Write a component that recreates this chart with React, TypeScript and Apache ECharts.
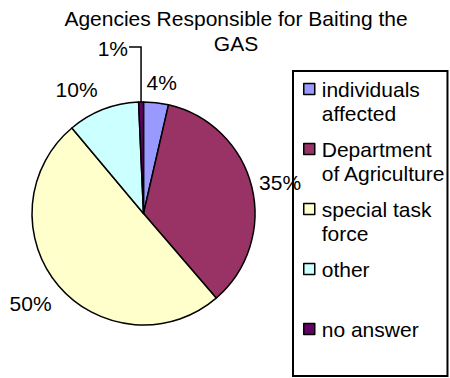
import React, { useEffect, useRef } from "react";
import * as echarts from "echarts";

// ---- data ----
const categories = [
  "individuals affected",
  "Department of Agriculture",
  "special task force",
  "other",
  "no answer",
];
const legendLabels = [
  "individuals\naffected",
  "Department\nof Agriculture",
  "special task\nforce",
  "other\n ",
  "no answer\n ",
];
const shares = [3.6, 35.1, 50.2, 10.4, 0.7];
const titleLines = ["Agencies Responsible for Baiting the", "GAS"];

// ---- styles / layout ----
const colors = ["#9999FF", "#993366", "#FFFFCC", "#CCFFFF", "#660066"];
const FONT = "'Liberation Sans', Arial, Helvetica, sans-serif";
const CX = 143.5;
const CY = 213.5;
const RADIUS = 111.5;
const LABEL_R = 135;
const labelNudge = [
  [3, 3],
  [5.5, 1],
  [-10, 3],
  [-18, 1.5],
  [0, 0],
];
const LEADER_INDEX = 4;
const LEADER_RISE = 55;
const LEADER_RUN = 12;

export default function App() {
  const ref = useRef<HTMLDivElement>(null);

  useEffect(() => {
    if (!ref.current) return;
    const chart = echarts.init(ref.current, null, { renderer: "svg" });
    const total = shares.reduce((a, b) => a + b, 0);

    const midAngle = (i: number) => {
      const before = shares.slice(0, i).reduce((a, b) => a + b, 0);
      return ((before + shares[i] / 2) / total) * Math.PI * 2;
    };

    chart.setOption({
      animation: false,
      title: {
        text: titleLines.join("\n"),
        left: 236,
        top: 6,
        padding: 0,
        textAlign: "center",
        textStyle: {
          fontFamily: FONT,
          fontSize: 21,
          fontWeight: "normal",
          color: "#000",
          lineHeight: 25,
        },
      },
      legend: {
        orient: "vertical",
        left: 293,
        top: 71,
        padding: [6, 2, 11, 10],
        itemGap: 12,
        itemWidth: 13,
        itemHeight: 35,
        icon: "path://M0,0L11,0L11,11L0,11Z M13,35",
        symbolKeepAspect: false,
        borderColor: "#000",
        borderWidth: 2,
        selectedMode: false,
        itemStyle: { borderColor: "#000", borderWidth: 1.5 },
        textStyle: {
          fontFamily: FONT,
          fontSize: 21,
          lineHeight: 24,
          color: "#000",
        },
        formatter: (name: string) => legendLabels[categories.indexOf(name)],
        data: categories,
      },
      series: [
        {
          type: "pie",
          center: [CX, CY],
          radius: RADIUS,
          startAngle: 90,
          clockwise: true,
          avoidLabelOverlap: false,
          minShowLabelAngle: 0,
          emphasis: { disabled: true },
          itemStyle: { borderColor: "#000", borderWidth: 1.5 },
          label: {
            show: true,
            position: "outside",
            fontFamily: FONT,
            fontSize: 21,
            color: "#000",
            formatter: (p: any) => Math.round(p.percent) + "%",
          },
          labelLine: {
            show: false,
            length: 10,
            length2: 10,
            lineStyle: { color: "#000", width: 1.5 },
          },
          labelLayout: (params: any) => {
            const i = params.dataIndex;
            const a = midAngle(i);
            const dx = Math.sin(a);
            const dy = -Math.cos(a);
            if (i === LEADER_INDEX) {
              const x1 = CX + RADIUS * dx;
              const y1 = CY + RADIUS * dy;
              const y2 = y1 - LEADER_RISE;
              const x3 = x1 - LEADER_RUN;
              return {
                x: x3 - 1,
                y: y2 + 1,
                align: "right",
                verticalAlign: "middle",
                labelLinePoints: [
                  [x1, y1],
                  [x1, y2],
                  [x3, y2],
                ],
              };
            }
            return {
              x: CX + LABEL_R * dx + labelNudge[i][0],
              y: CY + LABEL_R * dy + labelNudge[i][1],
              align: "center",
              verticalAlign: "middle",
            };
          },
          data: categories.map((name, i) => ({
            name,
            value: shares[i],
            itemStyle: { color: colors[i] },
            labelLine: { show: i === LEADER_INDEX },
          })),
        },
      ],
    });

    return () => chart.dispose();
  }, []);

  return (
    <div
      ref={ref}
      style={{ position: "fixed", left: 0, top: 0, width: 450, height: 378, background: "#fff" }}
    />
  );
}
